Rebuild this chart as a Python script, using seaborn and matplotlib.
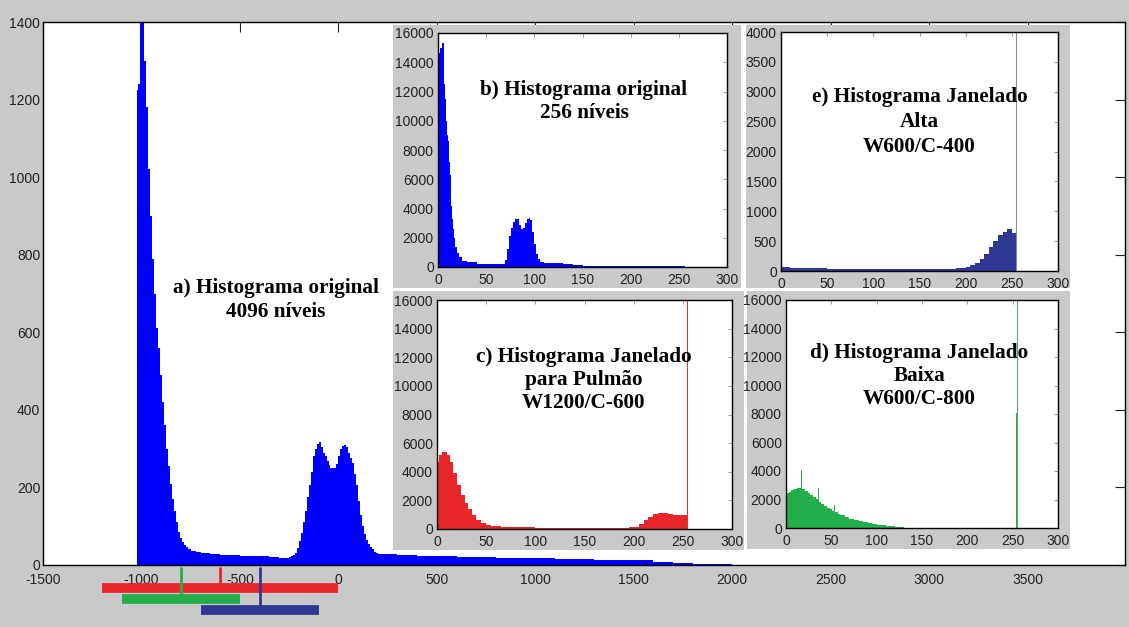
import matplotlib
matplotlib.use("Agg")
import matplotlib.pyplot as plt
import matplotlib.transforms as mtransforms
from matplotlib.patches import Rectangle
import numpy as np
import seaborn as sns

# ---------------- data ----------------
# a) original histogram, 4096 levels (HU); variable-width bins
MAIN_EDGES = ([-1025, -1015, -1005, -995, -985, -975, -965, -955, -945, -935,
               -925, -915, -905, -895, -885, -875, -865, -855, -845, -835,
               -825, -815, -805, -795, -785, -775, -765, -750, -725,
               -700, -650, -600, -550, -500, -450, -400, -350, -300]
              + list(range(-250, 200, 10))
              + list(range(200, 2001, 100)) + [2100])
MAIN_COUNTS = ([1225, 1240, 1460, 1420, 1300, 1180, 1020, 900, 790, 700,
                610, 560, 490, 420, 360, 300, 255, 210, 170, 140,
                110, 85, 70, 60, 52, 46, 40, 36, 33,
                30, 28, 26, 25, 24, 23, 22, 20, 19]
               + [20, 22, 26, 32, 45, 62, 82, 110, 140, 175,
                  205, 240, 280, 300, 312, 318, 305, 290, 280, 268,
                  258, 250, 250, 250, 260, 280, 300, 308, 310, 305,
                  290, 275, 262, 235, 205, 165, 130, 100, 80, 65,
                  55, 46, 40, 34, 31]
               + [29, 26, 24, 22, 21, 20, 19, 18, 17, 16, 15, 14, 13, 12, 9, 5, 3, 2, 1])
MAIN_XTICKS = [-1500, -1000, -500, 0, 500, 1000, 1500, 2000, 2500, 3000, 3500]
MAIN_YTICKS = [0, 200, 400, 600, 800, 1000, 1200, 1400]

# b) original histogram, 256 levels
B_EDGES = [0, 2, 4, 6, 7, 8, 9, 10, 11, 12, 13, 14, 15, 16, 17, 18, 20, 22, 25, 30,
           40, 50, 60, 70, 72, 74, 76, 78, 80, 82, 84, 86, 88, 90, 92, 94, 96, 98,
           100, 102, 104, 106, 110, 130, 140, 150, 240, 256]
B_COUNTS = [14600, 15000, 15300, 12500, 11500, 10000, 9000, 8600, 7200, 6300, 5000,
            4200, 3300, 2600, 2000, 1400, 950, 650, 420, 320, 230, 200, 210, 500,
            1200, 2100, 2700, 3100, 3300, 3250, 2900, 2600, 2650, 3000, 3300, 3350,
            3200, 2400, 1600, 900, 550, 320, 240, 200, 120, 70, 40]

# c) windowed W1200/C-600 (lung)
C_EDGES = [0, 2, 5, 10, 13, 16, 20, 24, 28, 32, 36, 40, 45, 50, 55, 65, 80, 100, 130,
           170, 195, 200, 205, 210, 215, 220, 225, 230, 235, 240, 245, 250, 254, 255]
C_COUNTS = [4700, 5200, 5400, 5200, 4700, 3900, 3100, 2400, 1800, 1400, 950, 620, 430,
            300, 220, 170, 110, 70, 50, 60, 110, 170, 380, 620, 830, 1020, 1130, 1150,
            1050, 970, 950, 990, 8550]

# d) windowed W600/C-800 (low)
D_EDGES = [0, 3, 6, 9, 12, 15, 17, 18, 21, 24, 27, 30, 33, 35, 36, 39, 42, 45, 48, 51,
           53, 54, 57, 60, 65, 70, 75, 80, 85, 90, 95, 100, 110, 120, 130, 254, 255]
D_COUNTS = [2450, 2550, 2650, 2750, 2800, 2800, 4050, 2750, 2600, 2450, 2300, 2150,
            2000, 2800, 1850, 1700, 1550, 1400, 1300, 1200, 1600, 1100, 1000, 900, 780,
            650, 560, 470, 400, 330, 270, 200, 140, 80, 30, 8050]

# e) windowed W600/C-400 (high)
E_EDGES = [0, 10, 50, 100, 150, 190, 200, 205, 210, 215, 220, 225, 230, 235, 240,
           245, 250, 254, 255]
E_COUNTS = [60, 45, 40, 38, 40, 55, 70, 100, 140, 200, 290, 400, 500, 600, 660, 700,
            640, 2270]

SAT_LEVEL = 254.5           # saturated top level (counts overflow the axis)
INSET_XTICKS = [0, 50, 100, 150, 200, 250, 300]

# windows (HU): c, d, e
WIN_CENTER = [-600, -800, -400]
WIN_WIDTH = [1200, 600, 600]

# ---------------- style ----------------
GREY = "#c9c9c9"
BLUE = "#0000ff"
RED = "#e8262a"
GREEN = "#22ae4b"
NAVY = "#2e3894"

sns.set_style("white")
plt.rcParams["font.family"] = ["Liberation Sans", "DejaVu Sans"]
plt.rcParams["axes.unicode_minus"] = False
plt.rcParams["text.color"] = "black"
SERIF = ["Liberation Serif", "DejaVu Serif"]
TFS = 15.3
LFS = 10

W, H = 1129, 627
fig = plt.figure(figsize=(W / 100, H / 100), dpi=100, facecolor=GREY)


def frect(x0, y0, x1, y1):
    return [x0 / W, 1 - y1 / H, (x1 - x0) / W, (y1 - y0) / H]


def centers(edges):
    e = np.asarray(edges, dtype=float)
    return (e[:-1] + e[1:]) / 2


# ---------------- main axes ----------------
ax = fig.add_axes(frect(43, 22, 1125, 565))
ax.set_facecolor("white")
sns.histplot(x=centers(MAIN_EDGES), weights=MAIN_COUNTS, bins=MAIN_EDGES,
             element="step", fill=True, color=BLUE, alpha=1, linewidth=0, ax=ax)
ax.set_xlim(-1500, 3995)
ax.set_ylim(0, 1400)
ax.set_xticks(MAIN_XTICKS)
ax.set_yticks(MAIN_YTICKS)
ax.set_xlabel("")
ax.set_ylabel("")
for s in ax.spines.values():
    s.set_color("black")
    s.set_linewidth(1.0)
ax.tick_params(axis="both", direction="in", length=7, width=0.8, color="#222222",
               top=True, right=True, labelsize=LFS, labelcolor="#222222")
ax.tick_params(axis="x", pad=6)
ax.tick_params(axis="y", pad=2)
ax.text(0.215, 0.488, "a) Histograma original\n4096 níveis", transform=ax.transAxes,
        ha="center", va="center", fontsize=TFS, fontweight="bold", family=SERIF,
        linespacing=1.3, color="black")

# window bars below the axis
trans = mtransforms.blended_transform_factory(ax.transData, ax.transAxes)
bar_y = [-0.0424, -0.0626, -0.0829]
win_colors = [RED, GREEN, NAVY]
for c, w, col, yb in zip(WIN_CENTER, WIN_WIDTH, win_colors, bar_y):
    ax.plot([c - w / 2, c + w / 2], [yb, yb], transform=trans, color=col, lw=7,
            solid_capstyle="butt", clip_on=False, zorder=5)
for c, col, yb in zip(WIN_CENTER, win_colors, bar_y):
    ax.plot([c, c], [-0.005, yb], transform=trans, color=col, lw=2,
            clip_on=False, zorder=6)


# ---------------- insets ----------------
def inset(panel_box, ax_box, edges, counts, color, ymax, yticks, label, tx, ty,
          sat_color, ls):
    fig.add_artist(Rectangle((panel_box[0], panel_box[1]), panel_box[2], panel_box[3],
                             transform=fig.transFigure, facecolor=GREY,
                             edgecolor="none", zorder=2))
    a = fig.add_axes(ax_box)
    a.set_zorder(3)
    a.set_facecolor("white")
    sns.histplot(x=centers(edges), weights=counts, bins=edges, element="step",
                 fill=True, color=color, alpha=1, linewidth=0, ax=a)
    if sat_color is not None:
        a.axvline(SAT_LEVEL, color=sat_color, lw=0.8)
    a.set_xlim(0, 300)
    a.set_ylim(0, ymax)
    a.set_xticks(INSET_XTICKS)
    a.set_yticks(yticks)
    a.set_xlabel("")
    a.set_ylabel("")
    for s in a.spines.values():
        s.set_color("black")
        s.set_linewidth(1.0)
    a.tick_params(axis="both", direction="in", length=3, width=0.6, color="#8a8a8a",
                  top=True, right=True, labelsize=LFS, labelcolor="#222222")
    a.tick_params(axis="x", pad=4)
    a.tick_params(axis="y", pad=3)
    a.text(tx, ty, label, transform=a.transAxes, ha="center", va="center",
           fontsize=TFS, fontweight="bold", family=SERIF, linespacing=ls,
           color="black")
    return a


Y16 = [0, 2000, 4000, 6000, 8000, 10000, 12000, 14000, 16000]
Y4 = [0, 500, 1000, 1500, 2000, 2500, 3000, 3500, 4000]

inset(frect(393, 25, 741, 288), frect(438, 33, 727, 267), B_EDGES, B_COUNTS, BLUE,
      16000, Y16, "b) Histograma original\n256 níveis", 0.505, 0.709, None, 1.2)
inset(frect(746, 25, 1070, 288), frect(781, 32, 1058, 271), E_EDGES, E_COUNTS, NAVY,
      4000, Y4, "e) Histograma Janelado\nAlta\nW600/C-400", 0.5, 0.623, "#8c8c9c", 1.35)
inset(frect(393, 291, 744, 550), frect(437, 300, 732, 529), C_EDGES, C_COUNTS, RED,
      16000, Y16, "c) Histograma Janelado\npara Pulmão\nW1200/C-600", 0.498, 0.651,
      "#c04040", 1.2)
inset(frect(747, 291, 1070, 549), frect(786, 300, 1058, 528), D_EDGES, D_COUNTS, GREEN,
      16000, Y16, "d) Histograma Janelado\nBaixa\nW600/C-800", 0.49, 0.667, "#60a080",
      1.2)

fig.savefig("out.png", dpi=100, facecolor=GREY)
